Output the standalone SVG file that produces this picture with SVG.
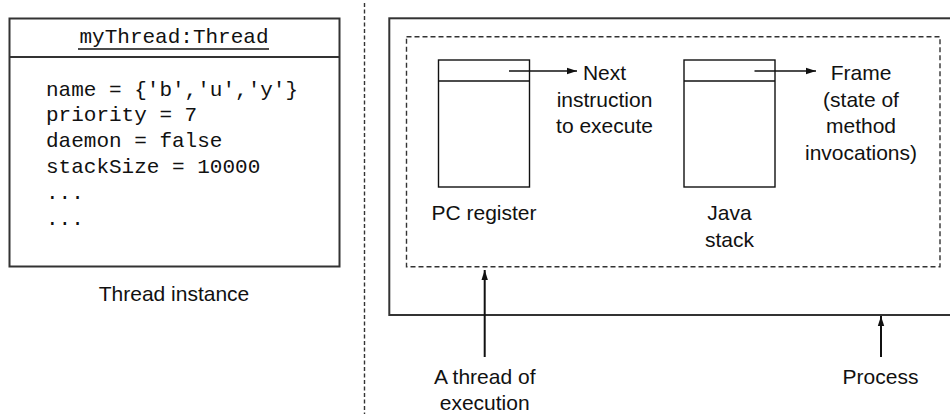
<svg xmlns="http://www.w3.org/2000/svg" width="950" height="414" viewBox="0 0 950 414">
<style>
.mono{font-family:"Liberation Mono","Courier New",monospace;font-size:21px;fill:#111}
.sans{font-family:"Liberation Sans",Arial,sans-serif;font-size:21px;fill:#111;text-anchor:middle}
.box{fill:#fff;stroke:#333;stroke-width:2}
.reg{fill:#fff;stroke:#111;stroke-width:1.4}
.dash{fill:none;stroke:#333;stroke-width:1.4;stroke-dasharray:5 3}
.conn{fill:none;stroke:#111;stroke-width:1.4}
.conn2{fill:none;stroke:#111;stroke-width:2}
</style>
<defs>
<marker id="ah" markerUnits="userSpaceOnUse" markerWidth="11" markerHeight="8" refX="10" refY="4" orient="auto">
<path d="M0,0.8 L10,4 L0,7.2 Z" fill="#111"/>
</marker>
</defs>
<rect width="950" height="414" fill="#fff"/>
<line x1="364.5" y1="3" x2="364.5" y2="414" stroke="#333" stroke-width="1.4" stroke-dasharray="4 2.5"/>
<g id="thread-instance">
<rect class="box" x="9.5" y="18.5" width="330" height="248"/>
<line x1="9.5" y1="57" x2="339.5" y2="57" stroke="#333" stroke-width="2"/>
<text class="mono" x="174" y="43" text-anchor="middle">myThread:Thread</text>
<line x1="78" y1="49" x2="269" y2="49" stroke="#111" stroke-width="1.5"/>
<text class="mono" x="46" y="95.5">name = {'b','u','y'}</text>
<text class="mono" x="46" y="121.3">priority = 7</text>
<text class="mono" x="46" y="147.2">daemon = false</text>
<text class="mono" x="46" y="173">stackSize = 10000</text>
<text class="mono" x="46" y="198.8">...</text>
<text class="mono" x="46" y="224.6">...</text>
<text class="sans" x="174" y="301">Thread instance</text>
</g>
<g id="process">
<rect class="box" x="389.3" y="18.3" width="600" height="296.7"/>
</g>
<g id="thread-of-execution">
<rect class="dash" x="406.5" y="36.7" width="533.5" height="230"/>
</g>
<g id="pc-register">
<rect class="reg" x="438.5" y="60" width="91" height="127"/>
<line x1="438.5" y1="81" x2="529.5" y2="81" stroke="#111" stroke-width="1.4"/>
<text class="sans" x="484" y="220">PC register</text>
</g>
<g id="java-stack">
<rect class="reg" x="684" y="60" width="91" height="127"/>
<line x1="684" y1="81" x2="775" y2="81" stroke="#111" stroke-width="1.4"/>
<text class="sans" x="729.5" y="220">Java</text>
<text class="sans" x="729.5" y="246.7">stack</text>
</g>
<g id="next-instruction">
<text class="sans" x="604.5" y="80">Next</text>
<text class="sans" x="604.5" y="106.7">instruction</text>
<text class="sans" x="604.5" y="133.3">to execute</text>
</g>
<g id="frame">
<text class="sans" x="861" y="80">Frame</text>
<text class="sans" x="861" y="106.7">(state of</text>
<text class="sans" x="861" y="133.3">method</text>
<text class="sans" x="861" y="160">invocations)</text>
</g>
<g id="label-thread">
<text class="sans" x="484.7" y="383.5">A thread of</text>
<text class="sans" x="484.7" y="409.5">execution</text>
</g>
<g id="label-process">
<text class="sans" x="880.5" y="383.5">Process</text>
</g>
<g id="connectors">
<path class="conn" d="M509,71 H577" marker-end="url(#ah)"/>
<path class="conn" d="M754.5,71 H816" marker-end="url(#ah)"/>
<path class="conn2" d="M484.7,357 V270" marker-end="url(#ah)"/>
<path class="conn2" d="M881,357 V316" marker-end="url(#ah)"/>
</g>
</svg>
